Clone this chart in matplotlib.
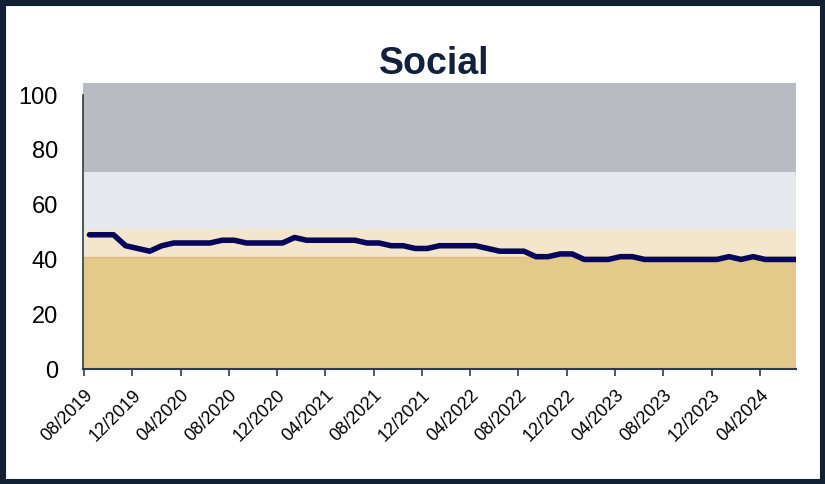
import matplotlib
matplotlib.use('Agg')
import matplotlib.pyplot as plt
import matplotlib.transforms as mtransforms
from matplotlib.patches import Rectangle

plt.rcParams['font.family'] = ['Liberation Sans', 'DejaVu Sans']

# monthly labels, 08/2019 .. 07/2024
months = []
y, m = 2019, 8
for _ in range(60):
    months.append(f'{m:02d}/{y}')
    m += 1
    if m > 12:
        m = 1
        y += 1

social = [49, 49, 49, 45, 44, 43, 45, 46, 46, 46,
          46, 47, 47, 46, 46, 46, 46, 48, 47, 47,
          47, 47, 47, 46, 46, 45, 45, 44, 44, 45,
          45, 45, 45, 44, 43, 43, 43, 41, 41, 42,
          42, 40, 40, 40, 41, 41, 40, 40, 40, 40,
          40, 40, 40, 41, 40, 41, 40, 40, 40, 40]

# background bands (lower, upper, colour)
band_edges = [0, 41, 51, 72, 104.4]
band_colors = ['#e3c98a', '#f3e6cc', '#e5e8ed', '#b8bbc2']

navy = '#131f33'
line_col = '#07065a'

fig = plt.figure(figsize=(8.25, 4.84), dpi=100)
ax = fig.add_axes([83 / 825, 1 - 369 / 484, 713 / 825, 286 / 484])

for lo, hi, c in zip(band_edges[:-1], band_edges[1:], band_colors):
    ax.axhspan(lo, hi, color=c, lw=0, zorder=0)
ax.axhline(41, color='#dcbf82', lw=1, zorder=1)

xs = [i + 0.45 for i in range(len(social))]
ax.plot(xs, social, color=line_col, lw=4.0, solid_joinstyle='round',
        solid_capstyle='round', zorder=3)

ax.set_xlim(-0.08, 59.0)
ax.set_ylim(0, 104.4)

ax.set_yticks([0, 20, 40, 60, 80, 100])
ax.tick_params(axis='y', length=0, labelsize=17, pad=18)
tick_pos = list(range(0, 60, 4))
ax.set_xticks(tick_pos)
ax.set_xticklabels([months[i] for i in tick_pos], rotation=45, ha='right',
                   fontsize=13)
ax.tick_params(axis='x', length=5, width=1.2, color='#2d3b4e', pad=8)
offset = mtransforms.ScaledTranslation(12 / 100, 0, fig.dpi_scale_trans)
for lab in ax.get_xticklabels():
    lab.set_transform(lab.get_transform() + offset)

for s in ['top', 'right']:
    ax.spines[s].set_visible(False)
ax.spines['left'].set_bounds(0, 100)
ax.spines['left'].set_color('#2d3b4e')
ax.spines['bottom'].set_color('#2d3b4e')
ax.spines['left'].set_linewidth(1.2)
ax.spines['bottom'].set_linewidth(1.5)

fig.text(434 / 825, 1 - 74 / 484, 'Social', fontsize=27, fontweight='bold',
         color='#14213d', ha='center', va='baseline')

# outer frame
fig.patches.append(Rectangle((0, 0), 1, 1, transform=fig.transFigure,
                             fill=False, ec=navy, lw=8, zorder=10))

fig.savefig('out.png', dpi=100)
